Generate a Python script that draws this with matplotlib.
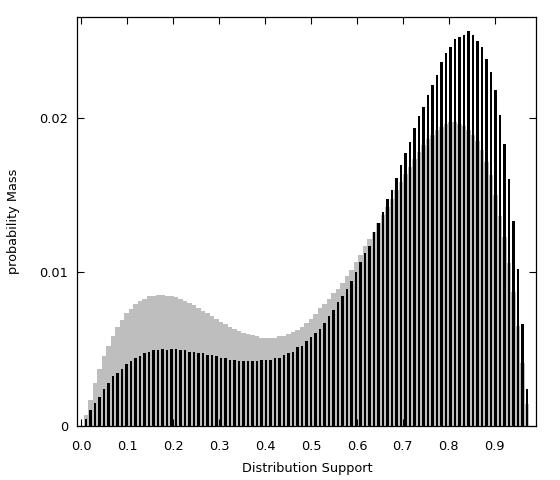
import numpy as np
import matplotlib
matplotlib.use("Agg")
import matplotlib.pyplot as plt

# support points of the distribution (99 evenly spaced points)
support = np.arange(1, 100) / 102

# probability mass of the black (narrow) series
mass_black = [
    0.00045, 0.0010, 0.0015, 0.00186, 0.00238, 0.00277, 0.00323, 0.00342, 0.00368, 0.0040,
    0.0042, 0.0044, 0.00453, 0.00472, 0.00479, 0.0049, 0.0049, 0.0050, 0.0049, 0.0050,
    0.0050, 0.0049, 0.0049, 0.00479, 0.00479, 0.00472, 0.00472, 0.00459, 0.00459, 0.00453,
    0.0044, 0.0044, 0.00427, 0.00427, 0.0042, 0.0042, 0.0042, 0.0042, 0.0042, 0.00427,
    0.00427, 0.00427, 0.0044, 0.0044, 0.00459, 0.00472, 0.00479, 0.00511, 0.00518, 0.0055,
    0.00576, 0.00602, 0.00628, 0.00667, 0.00712, 0.00751, 0.00803, 0.00843, 0.00889, 0.00941,
    0.0100, 0.01065, 0.01123, 0.01169, 0.0126, 0.01318, 0.0139, 0.01474, 0.01532, 0.0161,
    0.01694, 0.01771, 0.01844, 0.01935, 0.02012, 0.02072, 0.02147, 0.02212, 0.02277, 0.02362,
    0.0242, 0.02459, 0.02511, 0.0253, 0.02537, 0.02563, 0.02537, 0.02498, 0.02459, 0.02381,
    0.02297, 0.0218, 0.0202, 0.01831, 0.01604, 0.01331, 0.0102, 0.0066, 0.0024,
]

# probability mass of the gray (wide) series
mass_gray = [
    0.0007, 0.0017, 0.00277, 0.00368, 0.00453, 0.00518, 0.00584, 0.0064, 0.00686, 0.00732,
    0.00758, 0.0079, 0.0081, 0.00823, 0.00842, 0.00842, 0.00849, 0.00849, 0.00842, 0.00842,
    0.00836, 0.00823, 0.0081, 0.00797, 0.00784, 0.00764, 0.00745, 0.00732, 0.00712, 0.00692,
    0.00672, 0.0066, 0.0064, 0.00628, 0.00618, 0.00604, 0.00596, 0.00589, 0.00582, 0.0057,
    0.0057, 0.0057, 0.0057, 0.0058, 0.00586, 0.00595, 0.00608, 0.00621, 0.0064, 0.00666,
    0.00695, 0.00725, 0.00762, 0.00791, 0.00825, 0.00864, 0.0089, 0.0093, 0.00974, 0.01013,
    0.01065, 0.0111, 0.01169, 0.01214, 0.0126, 0.01318, 0.0137, 0.01422, 0.01474, 0.01532,
    0.01584, 0.01636, 0.01682, 0.01734, 0.01779, 0.01825, 0.01864, 0.0189, 0.01922, 0.01942,
    0.01961, 0.01974, 0.01974, 0.01961, 0.01948, 0.01922, 0.0189, 0.01851, 0.01792, 0.01714,
    0.0163, 0.015, 0.01364, 0.01227, 0.01058, 0.0087, 0.0065, 0.0041, 0.0014,
]

x_ticks = [0.0, 0.1, 0.2, 0.3, 0.4, 0.5, 0.6, 0.7, 0.8, 0.9]
x_tick_labels = ["0.0", "0.1", "0.2", "0.3", "0.4", "0.5", "0.6", "0.7", "0.8", "0.9"]
y_ticks = [0.0, 0.01, 0.02]
y_tick_labels = ["0", "0.01", "0.02"]

plt.rcParams["font.family"] = ["DejaVu Sans"]
fig = plt.figure(figsize=(5.6, 4.8), dpi=100)
ax = fig.add_axes([0.138, 0.1131, 0.820, 0.8525])

step = support[1] - support[0]
ax.bar(support, mass_gray, width=step, color="#bebebe", linewidth=0, zorder=1)
ax.bar(support, mass_black, width=step * 0.59, color="black", linewidth=0, zorder=2)

ax.set_xlim(-0.009, 0.991)
ax.set_ylim(0, 0.0266)
ax.set_xticks(x_ticks)
ax.set_xticklabels(x_tick_labels)
ax.set_yticks(y_ticks)
ax.set_yticklabels(y_tick_labels)
ax.tick_params(axis="both", which="major", direction="in", length=5, width=0.8,
               top=True, right=True, labelsize=9.3, color="black")
ax.tick_params(axis="x", pad=10)
ax.tick_params(axis="y", pad=6.5)
for s in ax.spines.values():
    s.set_linewidth(0.9)
    s.set_zorder(5)

ax.set_xlabel("Distribution Support", fontsize=9.3, labelpad=7)
ax.set_ylabel("probability Mass", fontsize=9.3, labelpad=14)

fig.savefig("out.png", dpi=100)
